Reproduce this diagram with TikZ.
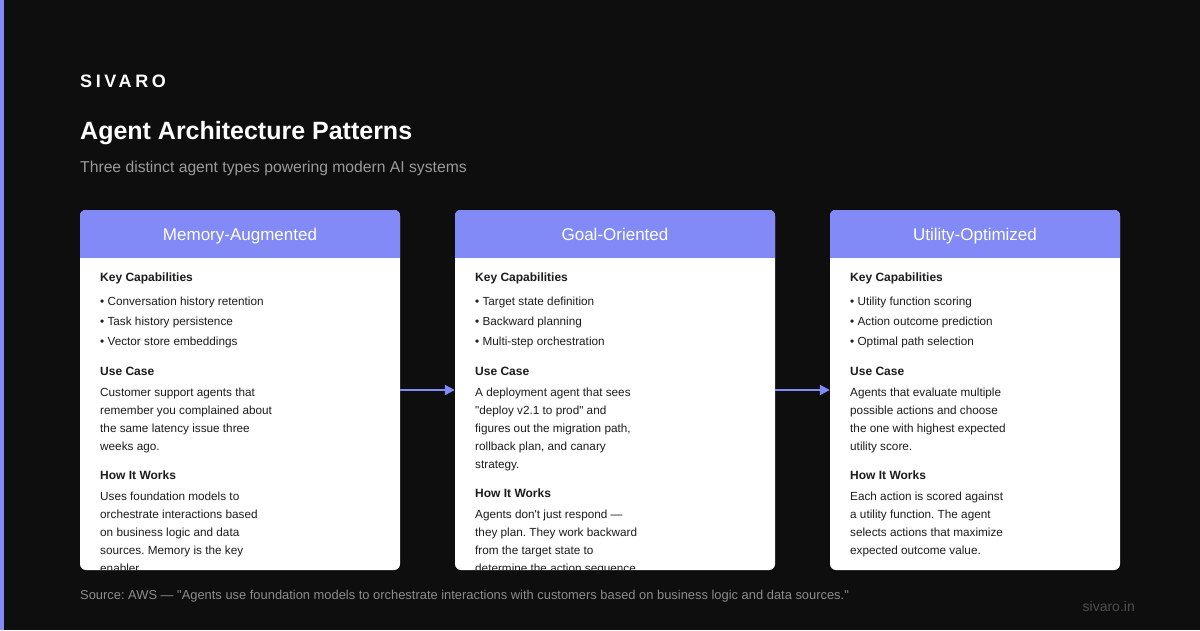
\documentclass[tikz,border=0pt]{standalone}
\usepackage{fontspec}
\setmainfont{Liberation Sans}
\newfontfamily\spacedfont[LetterSpace=20]{Liberation Sans}
\usetikzlibrary{arrows.meta}
\frenchspacing
\definecolor{bg}{HTML}{0E0E0E}
\definecolor{accent}{HTML}{818AF6}
\definecolor{hdr}{HTML}{818AF6}
\definecolor{ink}{HTML}{1C1C1C}
\definecolor{subgray}{HTML}{9A9A9A}
\definecolor{srcgray}{HTML}{8C8C8C}
\definecolor{footgray}{HTML}{4E4E4E}
\tikzset{
  card/.style={draw=none, fill=white, rounded corners=6pt, minimum height=360pt, inner sep=0pt},
  hdrtext/.style={text=white, inner sep=0pt, font=\fontsize{17}{20}\selectfont, anchor=base},
  sechead/.style={anchor=base west, inner sep=0pt, text=ink, font=\bfseries\fontsize{12}{14}\selectfont},
  bodyline/.style={anchor=base west, inner sep=0pt, text=ink, font=\fontsize{11.75}{13}\selectfont},
  flow/.style={draw=accent, line width=2pt, -{Triangle[length=10pt,width=10pt]}},
}
\begin{document}
\begin{tikzpicture}[x=1pt,y=-1pt]
\fill[bg] (0,0) rectangle (1200,630);
\useasboundingbox (0,0) rectangle (1200,630);
\fill[accent] (0,0) rectangle (4,630);

\node[anchor=base west, inner sep=0pt, text=white, font=\spacedfont\bfseries\fontsize{18}{20}\selectfont] (brand) at (80,87) {SIVARO};
\node[anchor=base west, inner sep=0pt, text=white, font=\bfseries\fontsize{25}{30}\selectfont] (title) at (80,139) {Agent Architecture Patterns};
\node[anchor=base west, inner sep=0pt, text=subgray, font=\fontsize{15.7}{18}\selectfont] (sub) at (80,172) {Three distinct agent types powering modern AI systems};

\node[card, minimum width=320pt] (c1) at (240,390) {};
\node[card, minimum width=320pt] (c2) at (615,390) {};
\node[card, minimum width=290pt] (c3) at (975,390) {};

% card 1
\begin{scope}
\clip[rounded corners=6pt] (c1.south west) rectangle (c1.north east);
\fill[hdr] (80,210) rectangle (400,258);
\node[hdrtext] (h1) at (240,240) {Memory-Augmented};
\node[sechead] (k1) at (100,281.5) {Key Capabilities};
\node[bodyline] at (100,305) {\textbullet\ Conversation history retention};
\node[bodyline] at (100,325) {\textbullet\ Task history persistence};
\node[bodyline] at (100,345) {\textbullet\ Vector store embeddings};
\node[sechead] at (100,375.5) {Use Case};
\node[bodyline] at (100,396) {Customer support agents that};
\node[bodyline] at (100,414) {remember you complained about};
\node[bodyline] at (100,432) {the same latency issue three};
\node[bodyline] at (100,450) {weeks ago.};
\node[sechead] at (100,479.5) {How It Works};
\node[bodyline] at (100,500) {Uses foundation models to};
\node[bodyline] at (100,518) {orchestrate interactions based};
\node[bodyline] at (100,536) {on business logic and data};
\node[bodyline] at (100,554) {sources. Memory is the key};
\node[bodyline] at (100,572) {enabler.};
\end{scope}

% card 2
\begin{scope}
\clip[rounded corners=6pt] (c2.south west) rectangle (c2.north east);
\fill[hdr] (455,210) rectangle (775,258);
\node[hdrtext] (h2) at (615,240) {Goal-Oriented};
\node[sechead] at (475,281.5) {Key Capabilities};
\node[bodyline] at (475,305) {\textbullet\ Target state definition};
\node[bodyline] at (475,325) {\textbullet\ Backward planning};
\node[bodyline] at (475,345) {\textbullet\ Multi-step orchestration};
\node[sechead] at (475,375.5) {Use Case};
\node[bodyline] at (475,396) {A deployment agent that sees};
\node[bodyline] at (475,414) {\textquotedbl deploy v2.1 to prod\textquotedbl\ and};
\node[bodyline] at (475,432) {figures out the migration path,};
\node[bodyline] at (475,450) {rollback plan, and canary};
\node[bodyline] at (475,468) {strategy.};
\node[sechead] at (475,497.5) {How It Works};
\node[bodyline] at (475,518) {Agents don\textquotesingle t just respond —};
\node[bodyline] at (475,536) {they plan. They work backward};
\node[bodyline] at (475,554) {from the target state to};
\node[bodyline] at (475,572) {determine the action sequence.};
\end{scope}

% card 3
\begin{scope}
\clip[rounded corners=6pt] (c3.south west) rectangle (c3.north east);
\fill[hdr] (830,210) rectangle (1120,258);
\node[hdrtext] (h3) at (975,240) {Utility-Optimized};
\node[sechead] at (850,281.5) {Key Capabilities};
\node[bodyline] at (850,305) {\textbullet\ Utility function scoring};
\node[bodyline] at (850,325) {\textbullet\ Action outcome prediction};
\node[bodyline] at (850,345) {\textbullet\ Optimal path selection};
\node[sechead] at (850,375.5) {Use Case};
\node[bodyline] at (850,396) {Agents that evaluate multiple};
\node[bodyline] at (850,414) {possible actions and choose};
\node[bodyline] at (850,432) {the one with highest expected};
\node[bodyline] at (850,450) {utility score.};
\node[sechead] at (850,479.5) {How It Works};
\node[bodyline] at (850,500) {Each action is scored against};
\node[bodyline] at (850,518) {a utility function. The agent};
\node[bodyline] at (850,536) {selects actions that maximize};
\node[bodyline] at (850,554) {expected outcome value.};
\end{scope}

\draw[flow] (c1.east) -- (c2.west);
\draw[flow] (c2.east) -- (c3.west);

\node[anchor=base west, inner sep=0pt, text=srcgray, font=\fontsize{12.9}{14}\selectfont] (src) at (80,599.5) {Source: AWS — \textquotedbl Agents use foundation models to orchestrate interactions with customers based on business logic and data sources.\textquotedbl};
\node[anchor=base east, inner sep=0pt, text=footgray, font=\fontsize{14}{15}\selectfont] (foot) at (1135,611.5) {sivaro.in};
\end{tikzpicture}
\end{document}
